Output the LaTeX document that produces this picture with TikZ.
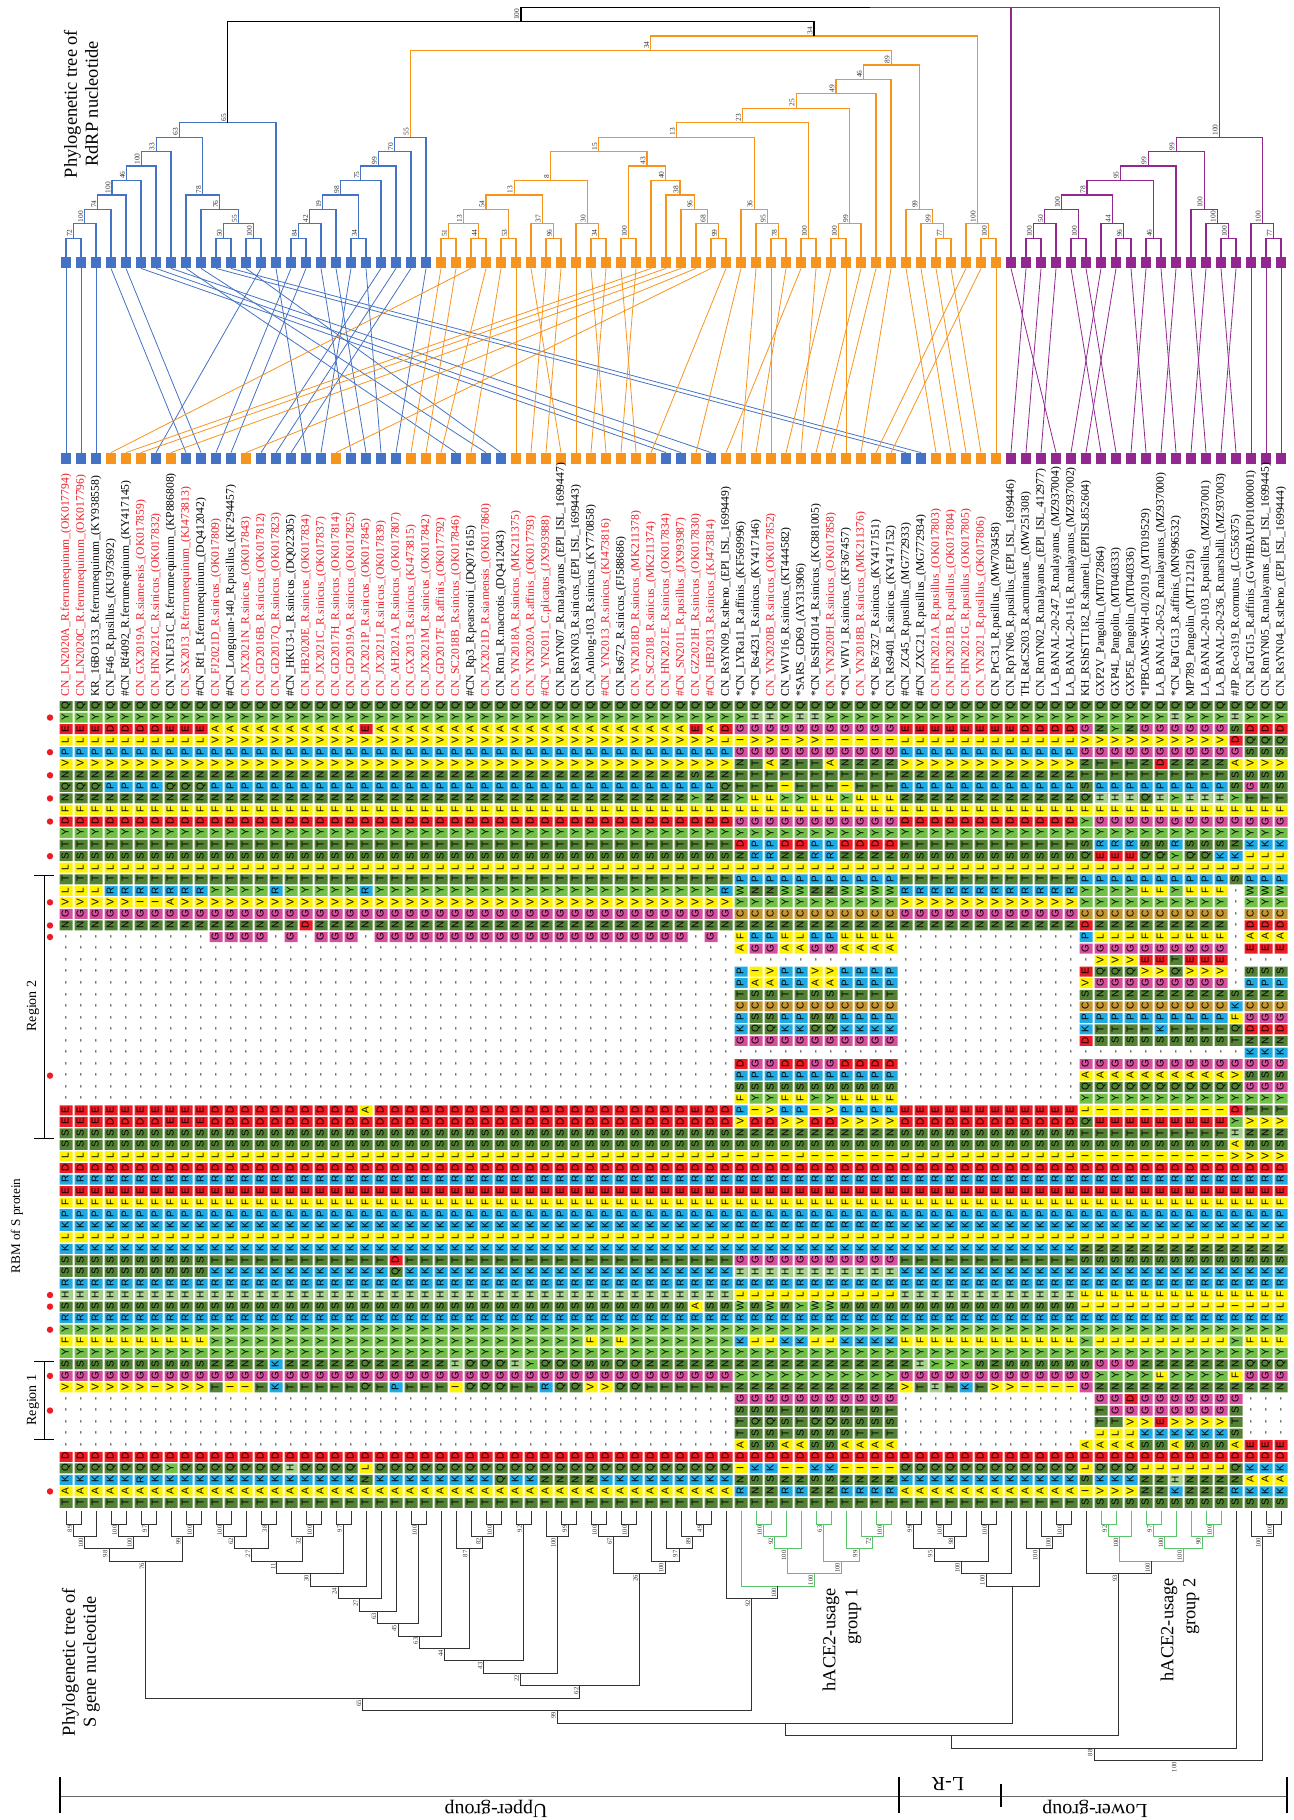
\documentclass[tikz,border=0pt]{standalone}
\usepackage{fontspec}
\setmainfont{Liberation Serif}
\newfontfamily\aafont{Liberation Sans}

\definecolor{rdblue}{RGB}{68,114,196}
\definecolor{rdorange}{RGB}{247,148,30}
\definecolor{rdpurple}{RGB}{146,39,143}
\definecolor{labred}{RGB}{237,28,36}
\definecolor{acegreen}{RGB}{90,196,106}
\definecolor{aaDG}{RGB}{84,130,53}
\definecolor{aaLG}{RGB}{114,192,72}
\definecolor{aaYE}{RGB}{255,242,0}
\definecolor{aaRE}{RGB}{237,28,36}
\definecolor{aaBL}{RGB}{30,170,226}
\definecolor{aaMA}{RGB}{214,79,157}
\definecolor{aaPG}{RGB}{169,209,142}
\definecolor{aaBR}{RGB}{196,150,50}
\colorlet{lr}{labred}
\colorlet{lk}{black}

% residue -> cell colour
\newcommand\setcol[2]{\expandafter\def\csname col@#1\endcsname{#2}}
\setcol{Q}{aaDG}\setcol{N}{aaDG}\setcol{S}{aaDG}\setcol{T}{aaDG}
\setcol{Y}{aaLG}\setcol{W}{aaLG}
\setcol{A}{aaYE}\setcol{V}{aaYE}\setcol{L}{aaYE}\setcol{I}{aaYE}\setcol{F}{aaYE}\setcol{M}{aaYE}
\setcol{D}{aaRE}\setcol{E}{aaRE}
\setcol{K}{aaBL}\setcol{R}{aaBL}\setcol{P}{aaBL}
\setcol{G}{aaMA}\setcol{H}{aaPG}\setcol{C}{aaBR}\setcol{-}{none}
\newcommand\aabox[1]{\hbox to 5.775pt{\hss#1\hss}}

\tikzset{
  rdrp/.style={line width=0.6pt},
  sgene/.style={line width=0.45pt},
  tangle/.style={line width=0.4pt},
  tipsq/.style={minimum width=5pt,minimum height=5.5pt,inner sep=0pt},
  taxon/.style={rotate=90,anchor=west,inner sep=0pt,font=\fontsize{5.8}{6}\selectfont},
  bsT/.style={rotate=90,anchor=south west,inner sep=0.6pt,text=black!80,font=\fontsize{3.7}{4}\selectfont},
  bsB/.style={rotate=90,anchor=south east,inner sep=0.6pt,text=black!80,font=\fontsize{3.3}{4}\selectfont},
  aacol/.style={rotate=90,anchor=west,inner sep=0pt,font=\aafont\fontsize{5}{5}\selectfont},
  vtitle/.style={rotate=90,align=center,font=\fontsize{9.2}{10.5}\selectfont},
}

% join of two branches, RdRP tree (top)
\newcommand\tj[6][rdblue]{%
  \pgfmathsetmacro\jx{(\csname nx@#3\endcsname+\csname nx@#4\endcsname)/2}%
  \pgfmathsetmacro\jy{238.3-14.45*(#5-1)}%
  \expandafter\xdef\csname nx@#2\endcsname{\jx}%
  \coordinate (#2) at (\jx,\jy);
  \draw[rdrp,#1] (#3) |- (#2) -| (#4);
  \node[bsT] at (#2) {#6};}
% join of two branches, S gene tree (bottom)
\newcommand\bj[6][black!80]{%
  \pgfmathsetmacro\jx{(\csname nx@#3\endcsname+\csname nx@#4\endcsname)/2}%
  \pgfmathsetmacro\jy{1511.5+12.45*#5}%
  \expandafter\xdef\csname nx@#2\endcsname{\jx}%
  \coordinate (#2) at (\jx,\jy);
  \draw[sgene,#1] (#3) |- (#2) -| (#4);
  \node[bsB] at (#2) {#6};}

% RBM sequences, row 1 (top) to row 70 (bottom)
\def\seqA{Q,Y,E,L,P,V,N,Q,N,F,D,Y,T,S,L,T,L,V,G,N,-,-,-,-,-,-,-,-,-,-,-,-,-,-,-,E,E,S,S,L,D,R,E,F,P,K,L,K,S,S,R,H,S,R,Y,F,Y,S,G,V,-,-,-,-,-,D,Q,K,A,T}
\def\seqB{Q,Y,A,V,P,V,N,P,N,F,D,Y,T,S,L,T,Y,V,G,N,G,-,-,-,-,-,-,-,-,-,-,-,-,-,-,D,D,S,S,L,D,R,E,F,P,K,L,K,T,K,R,H,S,R,Y,Y,Y,N,G,T,-,-,-,-,-,D,Q,K,A,T}
\def\seqC{Q,Y,G,I,G,N,T,T,Y,F,G,Y,D,N,L,P,W,Y,C,N,F,A,-,P,P,T,C,P,K,G,-,D,P,S,F,P,V,N,S,I,D,R,E,F,P,R,L,K,G,H,R,L,Y,R,Y,K,Y,N,Y,N,G,T,S,T,A,D,I,N,R,T}
\def\seqJ{Q,H,G,V,G,T,T,T,F,F,G,Y,P,R,L,P,N,Y,C,N,P,G,-,V,A,S,C,S,Q,G,-,G,P,S,Y,V,D,N,S,L,D,R,E,F,P,R,L,K,G,H,R,L,W,R,Y,L,Y,N,Y,N,G,S,Q,S,S,D,K,S,N,T}
\def\seqE{Q,Y,E,L,P,V,N,P,N,F,D,Y,T,S,L,T,R,V,G,N,-,-,-,-,-,-,-,-,-,-,-,-,-,-,-,E,D,S,S,L,D,R,E,F,P,K,L,K,T,K,R,H,S,R,Y,F,Y,S,G,T,-,-,-,-,-,D,Q,K,A,T}
\def\seqF{Q,Y,D,L,P,V,N,P,N,F,D,Y,T,S,L,T,R,V,G,N,-,-,-,-,-,-,-,-,-,-,-,-,-,-,-,E,D,S,S,L,D,R,E,F,P,K,L,K,T,K,R,H,S,R,Y,F,Y,S,G,I,-,-,-,-,-,D,Q,K,A,T}
\def\seqI{Q,Y,G,V,G,N,T,S,Q,F,Y,Y,S,Q,L,P,Y,Y,C,D,P,G,-,E,V,S,C,P,K,D,-,G,A,Q,Y,L,Q,T,S,I,D,R,E,F,P,K,L,N,S,K,R,F,L,R,Y,Y,Y,S,G,G,-,-,-,-,A,D,L,S,I,S}
\def\seqD{Q,Y,G,V,G,N,T,P,Q,F,G,Y,S,Q,L,P,F,Y,C,N,F,G,E,V,G,N,C,P,T,S,-,G,A,Q,Y,I,E,T,S,I,D,R,E,F,P,K,L,N,S,K,R,F,L,R,Y,L,Y,N,Y,N,G,G,V,K,S,D,L,N,N,S}
\def\seqG{Q,H,S,D,G,A,S,S,Y,F,G,Y,N,K,L,S,-,-,-,-,-,-,-,-,-,S,K,F,Q,T,-,G,V,Q,Y,D,Y,H,A,V,D,R,E,F,P,K,L,N,S,K,R,F,I,R,Y,Y,Y,N,F,N,G,S,T,S,A,D,Q,N,R,S}
\def\seqH{Q,Y,D,Q,S,V,S,S,T,F,G,Y,K,L,L,P,W,Y,C,D,A,E,-,S,P,N,C,G,D,N,K,G,S,G,Y,T,V,N,S,V,D,R,E,F,P,K,L,N,S,K,R,F,L,R,Y,F,Y,Q,G,N,-,-,-,-,E,D,K,A,K,S}

\begin{document}
\begin{tikzpicture}[x=0.5pt,y=-0.5pt]
\useasboundingbox (0,0) rectangle (1294,1820);

% tip coordinates of both trees
\foreach \i in {0,...,81}{
  \pgfmathsetmacro\jx{66+15*\i}
  \expandafter\xdef\csname nx@t\i\endcsname{\jx}
  \expandafter\xdef\csname nx@s\i\endcsname{\jx}
  \coordinate (t\i) at (\jx,257);
  \coordinate (s\i) at (\jx,1511);
}

% ---- RdRP tree
\tj{a1}{t0}{t1}{1}{72}
\tj{a2}{a1}{t2}{2}{100}
\tj{a3}{a2}{t3}{3}{74}
\tj{a4}{a3}{t4}{4}{100}
\tj{a5}{a4}{t5}{5}{46}
\tj{a6}{a5}{t6}{6}{100}
\tj{a7}{a6}{t7}{7}{33}
\tj{a8}{t10}{t11}{1}{50}
\tj{a9}{t12}{t13}{1}{100}
\tj{a10}{a8}{a9}{2}{55}
\tj{a11}{t9}{a10}{3}{76}
\tj{a12}{t8}{a11}{4}{78}
\tj{a13}{a7}{a12}{8}{63}
\tj{a14}{a13}{t14}{9}{65}
\tj{u1}{t15}{t16}{1}{84}
\tj{u2}{u1}{t17}{2}{42}
\tj{u3}{u2}{t18}{3}{19}
\tj{u4}{t19}{t20}{1}{34}
\tj{u5}{u3}{u4}{4}{98}
\tj{u6}{u5}{t21}{5}{75}
\tj{u7}{u6}{t22}{6}{99}
\tj{u8}{u7}{t23}{7}{70}
\tj{u9}{u8}{t24}{8}{55}
\tj[rdorange]{o1}{t25}{t26}{1}{51}
\tj[rdorange]{o2}{t27}{t28}{1}{44}
\tj[rdorange]{o3}{o1}{o2}{2}{13}
\tj[rdorange]{o4}{t29}{t30}{1}{53}
\tj[rdorange]{o5}{o3}{o4}{3}{54}
\tj[rdorange]{o6}{t32}{t33}{1}{96}
\tj[rdorange]{o7}{t31}{o6}{2}{37}
\tj[rdorange]{o8}{o5}{o7}{4}{13}
\tj[rdorange]{o9}{t35}{t36}{1}{34}
\tj[rdorange]{o10}{t34}{o9}{2}{30}
\tj[rdorange]{o11}{o8}{o10}{5}{8}
\tj[rdorange]{o12}{t37}{t38}{1}{100}
\tj[rdorange]{o13}{t43}{t44}{1}{99}
\tj[rdorange]{o14}{t42}{o13}{2}{68}
\tj[rdorange]{o15}{t41}{o14}{3}{96}
\tj[rdorange]{o16}{t40}{o15}{4}{38}
\tj[rdorange]{o17}{t39}{o16}{5}{40}
\tj[rdorange]{o18}{o12}{o17}{6}{43}
\tj[rdorange]{o19}{o11}{o18}{7}{15}
\tj[rdorange]{o20}{t47}{t48}{1}{78}
\tj[rdorange]{o21}{t46}{o20}{2}{95}
\tj[rdorange]{o22}{t45}{o21}{3}{36}
\tj[rdorange]{o23}{o19}{o22}{8}{13}
\tj[rdorange]{o24}{t49}{t50}{1}{100}
\tj[rdorange]{o25}{o23}{o24}{9}{23}
\tj[rdorange]{o26}{t51}{t52}{1}{100}
\tj[rdorange]{o27}{o26}{t53}{2}{99}
\tj[rdorange]{o28}{o25}{o27}{10}{25}
\tj[rdorange]{o29}{o28}{t54}{11}{49}
\tj[rdorange]{o30}{o29}{t55}{12}{46}
\tj[rdorange]{o31}{t58}{t59}{1}{77}
\tj[rdorange]{o32}{t57}{o31}{2}{99}
\tj[rdorange]{o33}{t56}{o32}{3}{99}
\tj[rdorange]{o34}{o30}{o33}{13}{89}
\tj[rdorange]{o35}{u9}{o34}{14}{34}
\tj[rdorange]{o36}{t61}{t62}{1}{100}
\tj[rdorange]{o37}{t60}{o36}{2}{100}
\tj[rdorange]{o38}{o35}{o37}{15}{34}
\tj[black]{r1}{a14}{o38}{16}{100}
\tj[rdpurple]{p1}{t64}{t65}{1}{100}
\tj[rdpurple]{p2}{p1}{t66}{2}{50}
\tj[rdpurple]{p3}{t67}{t68}{1}{100}
\tj[rdpurple]{p4}{p2}{p3}{3}{100}
\tj[rdpurple]{p5}{t70}{t71}{1}{96}
\tj[rdpurple]{p6}{t69}{p5}{2}{44}
\tj[rdpurple]{p7}{p4}{p6}{4}{78}
\tj[rdpurple]{p8}{t72}{t73}{1}{46}
\tj[rdpurple]{p9}{p7}{p8}{5}{95}
\tj[rdpurple]{p10}{p9}{t74}{6}{99}
\tj[rdpurple]{p11}{t77}{t78}{1}{100}
\tj[rdpurple]{p12}{t76}{p11}{2}{100}
\tj[rdpurple]{p13}{t75}{p12}{3}{100}
\tj[rdpurple]{p14}{p10}{p13}{7}{99}
\tj[rdpurple]{p15}{t80}{t81}{1}{77}
\tj[rdpurple]{p16}{t79}{p15}{2}{100}
\tj[rdpurple]{p17}{p14}{p16}{8}{100}
\pgfmathsetmacro\jx{(\csname nx@r1\endcsname+\csname nx@p17\endcsname)/2}
\coordinate (r0) at (\jx,7.1);
\draw[rdrp] (r1) |- (r0);
\draw[rdrp,rdpurple] (t63) |- (r0);
\draw[rdrp,rdpurple] (r0) -| (p17);

% ---- tips and tanglegram
\foreach \i in {0,...,24} \node[tipsq,fill=rdblue] (tq\i) at ({66+15*\i},262.5) {};
\foreach \i in {25,...,62} \node[tipsq,fill=rdorange] (tq\i) at ({66+15*\i},262.5) {};
\foreach \i in {63,...,81} \node[tipsq,fill=rdpurple] (tq\i) at ({66+15*\i},262.5) {};
\foreach \i/\j in {0/0,1/1,2/2,3/8,4/9,5/40,6/41,7/43,8/26,9/28,10/56,11/57,12/29,13/6,14/16,15/10,16/11,17/19,18/20,19/17,20/21,21/13,22/14,23/15,24/22}{
  \node[tipsq,fill=rdblue] (bq\j) at ({66+15*\j},458.5) {};
  \draw[tangle,rdblue] (tq\i.south) -- (bq\j.north);
}
\foreach \i/\j in {25/23,26/24,27/3,28/25,29/27,30/30,31/33,32/31,33/32,34/34,35/36,36/35,37/38,38/37,39/4,40/5,41/7,42/12,43/18,44/39,45/42,46/45,47/47,48/46,49/44,50/49,51/48,52/52,53/50,54/51,55/53,56/58,57/59,58/60,59/61,60/54,61/55,62/62}{
  \node[tipsq,fill=rdorange] (bq\j) at ({66+15*\j},458.5) {};
  \draw[tangle,rdorange] (tq\i.south) -- (bq\j.north);
}
\foreach \i/\j in {63/66,64/63,65/64,66/65,67/69,68/70,69/67,70/68,71/72,72/71,73/74,74/73,75/76,76/75,77/78,78/77,79/79,80/80,81/81}{
  \node[tipsq,fill=rdpurple] (bq\j) at ({66+15*\j},458.5) {};
  \draw[tangle,rdpurple] (tq\i.south) -- (bq\j.north);
}

% ---- strain names
\foreach \c/\lab [count=\j from 0] in {
  lr/{CN\_LN2020A\_R.ferrumequinum\_(OK017794)},
  lr/{CN\_LN2020C\_R.ferrumequinum\_(OK017796)},
  lk/{KR\_16BO133\_R.ferrumequinum\_(KY938558)},
  lk/{CN\_F46\_R.pusillus\_(KU973692)},
  lk/{\#CN\_Rf4092\_R.ferrumequinum\_(KY417145)},
  lr/{CN\_GX2019A\_R.siamensis\_(OK017859)},
  lr/{CN\_HN2021C\_R.sinicus\_(OK017832)},
  lk/{CN\_YNLF31C\_R.ferrumequinum\_(KP886808)},
  lr/{CN\_SX2013\_R.ferrumequinum\_(KJ473813)},
  lk/{\#CN\_Rf1\_R.ferrumequinum\_(DQ412042)},
  lr/{CN\_FJ2021D\_R.sinicus\_(OK017809)},
  lk/{\#CN\_Longquan-140\_R.pusillus\_(KF294457)},
  lr/{CN\_JX2021N\_R.sinicus\_(OK017843)},
  lr/{CN\_GD2016B\_R.sinicus\_(OK017812)},
  lr/{CN\_GD2017Q\_R.sinicus\_(OK017823)},
  lk/{\#CN\_HKU3-1\_R.sinicus\_(DQ022305)},
  lr/{CN\_HB2020E\_R.sinicus\_(OK017834)},
  lr/{CN\_JX2021C\_R.sinicus\_(OK017837)},
  lr/{CN\_GD2017H\_R.sinicus\_(OK017814)},
  lr/{CN\_GD2019A\_R.sinicus\_(OK017825)},
  lr/{CN\_JX2021P\_R.sinicus\_(OK017845)},
  lr/{CN\_JX2021J\_R.sinicus\_(OK017839)},
  lr/{CN\_AH2021A\_R.sinicus\_(OK017807)},
  lr/{CN\_GX2013\_R.sinicus\_(KJ473815)},
  lr/{CN\_JX2021M\_R.sinicus\_(OK017842)},
  lr/{CN\_GD2017F\_R.affinis\_(OK017792)},
  lr/{CN\_SC2018B\_R.sinicus\_(OK017846)},
  lk/{\#CN\_Rp3\_R.pearsonii\_(DQ071615)},
  lr/{CN\_JX2021D\_R.siamensis\_(OK017860)},
  lk/{CN\_Rm1\_R.macrotis\_(DQ412043)},
  lr/{CN\_YN2018A\_R.sinicus\_(MK211375)},
  lr/{CN\_YN2020A\_R.affinis\_(OK017793)},
  lr/{\#CN\_YN2011\_C.plicatus\_(JX993988)},
  lk/{CN\_RmYN07\_R.malayanus\_(EPI\_ISL\_1699447)},
  lk/{CN\_RsYN03\_R.sinicus\_(EPI\_ISL\_1699443)},
  lk/{CN\_Anlong-103\_R.sinicus\_(KY770858)},
  lr/{\#CN\_YN2013\_R.sinicus\_(KJ473816)},
  lk/{CN\_Rs672\_R.sinicus\_(FJ588686)},
  lr/{CN\_YN2018D\_R.sinicus\_(MK211378)},
  lr/{CN\_SC2018\_R.sinicus\_(MK211374)},
  lr/{CN\_HN2021E\_R.sinicus\_(OK017834)},
  lr/{\#CN\_SN2011\_R.pusillus\_(JX993987)},
  lr/{CN\_GZ2021H\_R.sinicus\_(OK017830)},
  lr/{\#CN\_HB2013\_R.sinicus\_(KJ473814)},
  lk/{CN\_RsYN09\_R.stheno\_(EPI\_ISL\_1699449)},
  lk/{*CN\_LYRa11\_R.affinis\_(KF569996)},
  lk/{*CN\_Rs4231\_R.sinicus\_(KY417146)},
  lr/{CN\_YN2020B\_R.sinicus\_(OK017852)},
  lk/{CN\_WIV16\_R.sinicus\_(KT444582)},
  lk/{*SARS\_GD69\_(AY313906)},
  lk/{*CN\_RsSHC014\_R.sinicus\_(KC881005)},
  lr/{CN\_YN2020H\_R.sinicus\_(OK017858)},
  lk/{*CN\_WIV1\_R.sinicus\_(KF367457)},
  lr/{CN\_YN2018B\_R.sinicus\_(MK211376)},
  lk/{*CN\_Rs7327\_R.sinicus\_(KY417151)},
  lk/{CN\_Rs9401\_R.sinicus\_(KY417152)},
  lk/{\#CN\_ZC45\_R.pusillus\_(MG772933)},
  lk/{\#CN\_ZXC21\_R.pusillus\_(MG772934)},
  lr/{CN\_HN2021A\_R.pusillus\_(OK017803)},
  lr/{CN\_HN2021B\_R.pusillus\_(OK017804)},
  lr/{CN\_HN2021G\_R.pusillus\_(OK017805)},
  lr/{CN\_YN2021\_R.pusillus\_(OK017806)},
  lk/{CN\_PrC31\_R.pusillus\_(MW703458)},
  lk/{CN\_RpYN06\_R.pusillus\_(EPI\_ISL\_1699446)},
  lk/{TH\_RaCS203\_R.acuminatus\_(MW251308)},
  lk/{CN\_RmYN02\_R.malayanus\_(EPI\_ISL\_412977)},
  lk/{LA\_BANAL-20-247\_R.malayanus\_(MZ937004)},
  lk/{LA\_BANAL-20-116\_R.malayanus\_(MZ937002)},
  lk/{KH\_RShSTT182\_R.shameli\_(EPIISL852604)},
  lk/{GXP2V\_Pangolin\_(MT072864)},
  lk/{GXP4L\_Pangolin\_(MT040333)},
  lk/{GXP5E\_Pangolin\_(MT040336)},
  lk/{*IPBCAMS-WH-01/2019\_(MT019529)},
  lk/{LA\_BANAL-20-52\_R.malayanus\_(MZ937000)},
  lk/{*CN\_RaTG13\_R.affinis\_(MN996532)},
  lk/{MP789\_Pangolin\_(MT121216)},
  lk/{LA\_BANAL-20-103\_R.pusillus\_(MZ937001)},
  lk/{LA\_BANAL-20-236\_R.marshalli\_(MZ937003)},
  lk/{\#JP\_Rc-o319\_R.cornutus\_(LC556375)},
  lk/{CN\_RaTG15\_R.affinis\_(GWHBAUP01000001)},
  lk/{CN\_RmYN05\_R.malayanus\_(EPI\_ISL\_1699445)},
  lk/{CN\_RsYN04\_R.stheno\_(EPI\_ISL\_1699444)}}
  \node[taxon,text=\c] (lab\j) at ({66+15*\j},697) {\lab};

% ---- alignment of the RBM
% single residues that differ from their group (strain/row/residue)
\foreach \j/\k/\r in {3/3/D,4/3/D,5/3/D,6/3/D,20/3/E,42/3/E,44/3/D,63/3/E,69/3/N,70/3/Y,71/3/N,
  49/2/H,51/2/Y,74/2/H,44/4/L,49/4/V,51/4/I,47/6/A,49/6/T,51/6/A,69/6/T,70/6/T,71/6/T,73/6/D,42/7/S,
  3/8/P,4/8/P,5/8/P,6/8/P,44/8/Q,48/8/I,52/8/I,79/8/G,
  42/9/Y,53/9/F,54/9/F,55/9/F,69/9/H,70/9/H,71/9/H,73/9/H,74/9/Y,75/9/H,76/9/H,77/9/H,
  69/13/R,70/13/R,71/13/R,74/13/R,69/14/E,70/14/E,71/14/E,74/14/Y,77/14/K,
  3/17/R,4/17/R,5/17/R,6/17/R,7/17/R,8/17/R,9/17/R,14/17/R,20/17/R,44/17/R,69/17/Y,70/17/Y,71/17/Y,74/17/Y,
  5/18/I,6/18/I,7/18/A,16/20/D,
  14/21/-,16/21/-,20/21/-,42/21/-,44/21/-,49/21/L,69/21/L,70/21/L,71/21/L,74/21/L,
  69/23/V,70/23/V,71/23/V,74/23/T,46/24/I,69/24/Q,70/24/Q,71/24/Q,74/24/Q,73/29/K,
  20/36/A,42/36/E,46/36/I,50/36/I,3/37/D,4/37/D,5/37/D,6/37/D,49/40/L,47/40/I,50/40/I,51/40/I,
  22/49/D,22/50/Q,42/53/A,45/53/W,48/53/S,52/53/S,53/53/S,54/53/S,55/53/S,46/53/S,35/56/F,37/56/F,
  14/58/K,20/58/Q,26/58/H,27/58/Q,28/58/Q,29/58/Q,30/58/H,31/58/Y,32/58/Q,33/58/Q,34/58/Q,
  35/58/S,36/58/S,37/58/Q,38/58/Q,56/58/N,57/58/H,58/58/Y,59/58/Y,60/58/Y,62/58/N,
  69/58/G,70/58/G,71/58/G,73/59/F,
  6/60/I,11/60/I,12/60/I,14/60/K,20/60/Q,22/60/P,26/60/I,27/60/Q,28/60/Q,29/60/Q,32/60/R,
  33/60/Q,34/60/Q,35/60/V,36/60/V,37/60/Q,38/60/Q,56/60/V,58/60/H,60/60/K,62/60/V,63/60/V,
  45/62/S,49/62/S,52/62/S,54/62/S,45/63/T,49/63/T,49/64/S,52/64/S,
  71/61/D,69/62/T,69/63/T,70/63/T,73/63/E,69/64/L,70/64/L,71/64/L,
  69/65/A,70/65/A,71/65/A,74/65/A,7/67/Y,15/67/H,20/67/L,69/67/Q,70/67/Q,71/67/Q,
  5/68/R,20/68/N,29/68/Q,32/68/N,33/68/N,34/68/N,35/68/N,69/68/K,70/68/K,71/68/K,74/68/H,
  69/69/V,70/69/V,71/69/V,74/69/K}{
  \pgfmathtruncatemacro\kk{\k-1}
  \expandafter\xdef\csname ov@\j @\kk\endcsname{\r}
}
\foreach \tp [count=\j from 0] in {A,A,A,A,A,A,A,A,A,A,
  B,B,B,B,B,B,B,B,B,B,B,B,B,B,B,B,B,B,B,B,B,B,B,B,B,B,B,B,B,B,B,B,B,B,B,
  C,J,J,C,C,J,J,C,C,C,C,E,E,E,E,E,E,E,F,F,F,F,F,I,D,D,D,D,D,D,D,D,D,G,H,H,H}{
  \expandafter\let\expandafter\cur\csname seq\tp\endcsname
  \foreach \cn in {aaDG,aaLG,aaYE,aaRE,aaBL,aaMA,aaPG,aaBR,none}
    {\expandafter\gdef\csname cp@\cn\endcsname{}}
  \gdef\colstr{}
  \pgfmathsetmacro\xa{59.5+15*\j}
  \foreach \r [count=\k from 0] in \cur {
    \ifcsname ov@\j @\k\endcsname \edef\r{\csname ov@\j @\k\endcsname}\fi
    \edef\cc{\csname col@\r\endcsname}
    \pgfmathsetmacro\ya{701+11.55*\k}
    \expandafter\xdef\csname cp@\cc\endcsname{\csname cp@\cc\endcsname (\xa,\ya) rectangle ++(13,10)}
    \xdef\colstr{\noexpand\aabox{\r}\unexpanded\expandafter{\colstr}}
  }
  \foreach \cn in {aaDG,aaLG,aaYE,aaRE,aaBL,aaMA,aaPG,aaBR}{
    \expandafter\ifx\csname cp@\cn\endcsname\empty\else
      \edef\tmp{\noexpand\fill[\cn] \csname cp@\cn\endcsname;}\tmp
    \fi}
  \node[aacol] (col\j) at ({66+15*\j},1508.7) {\colstr};
}
% marked sites
\foreach \k in {2,5,7,9,11,14,18,20,21,33,52,53,55,59,62,69}
  \fill[labred] (50,{706+11.55*(\k-1)}) circle (1.6pt);

% regions
\draw[line width=0.5pt] (44,875) -- (44,1138) (34,875) -- (54,875) (34,1138) -- (54,1138);
\draw[line width=0.5pt] (44,1361) -- (44,1439) (34,1361) -- (54,1361) (34,1439) -- (54,1439);
\node[rotate=90,font=\fontsize{7}{8}\selectfont] (reg2) at (33,1006) {Region 2};
\node[rotate=90,font=\fontsize{7}{8}\selectfont] (reg1) at (33,1400) {Region 1};
\node[rotate=90,font=\fontsize{6.6}{7}\selectfont] (rbm) at (17,1226) {RBM of S protein};

% ---- S gene tree
\bj{b1}{s0}{s1}{1}{89}
\bj{b2}{b1}{s2}{2}{100}
\bj{b3}{s3}{s4}{1}{100}
\bj{b4}{s5}{s6}{1}{97}
\bj{b5}{b3}{b4}{2}{100}
\bj{b6}{b2}{b5}{3}{98}
\bj{b7}{s8}{s9}{1}{100}
\bj{b8}{s7}{b7}{2}{99}
\bj{b9}{b6}{b8}{4}{76}
\bj{b10}{s10}{s11}{1}{100}
\bj{b11}{b10}{s12}{2}{62}
\bj{b12}{s13}{s14}{1}{38}
\bj{b13}{b11}{b12}{3}{27}
\bj{b14}{s16}{s17}{1}{100}
\bj{b15}{s15}{b14}{2}{32}
\bj{b16}{b13}{b15}{4}{11}
\bj{b17}{s18}{s19}{1}{97}
\bj{b18}{b16}{b17}{5}{30}
\bj{b19}{b18}{s20}{6}{24}
\bj{b20}{b19}{s21}{7}{27}
\bj{b21}{b20}{s22}{8}{63}
\bj{b22}{s23}{s24}{1}{100}
\bj{b23}{b21}{b22}{9}{45}
\bj{b24}{b23}{s25}{10}{63}
\bj{b25}{s28}{s29}{1}{100}
\bj{b26}{s27}{b25}{2}{82}
\bj{b27}{s26}{b26}{3}{87}
\bj{b28}{b24}{b27}{11}{44}
\bj{b29}{s30}{s31}{1}{92}
\bj{b30}{b28}{b29}{12}{43}
\bj{b31}{s33}{s34}{1}{99}
\bj{b32}{s32}{b31}{2}{100}
\bj{b33}{b30}{b32}{13}{22}
\bj{b34}{s35}{s36}{1}{100}
\bj{b35}{s37}{s38}{1}{100}
\bj{b36}{b34}{b35}{2}{67}
\bj{b37}{s42}{s43}{1}{49}
\bj{b38}{s41}{b37}{2}{89}
\bj{b39}{s40}{b38}{3}{97}
\bj{b40}{s39}{b39}{4}{100}
\bj{b41}{b36}{b40}{5}{26}
\bj{b42}{b33}{b41}{14}{62}
\bj{b43}{b9}{b42}{15}{65}
\bj[acegreen]{g1}{s46}{s47}{1}{100}
\bj[acegreen]{g2}{g1}{s48}{2}{92}
\bj[acegreen]{g3}{g2}{s49}{3}{100}
\bj[acegreen]{g4}{s50}{s51}{1}{63}
\bj[acegreen]{g5}{s54}{s55}{1}{100}
\bj[acegreen]{g6}{s53}{g5}{2}{72}
\bj[acegreen]{g7}{s52}{g6}{3}{99}
\bj[acegreen]{g8}{g4}{g7}{4}{100}
\bj[acegreen]{g9}{g3}{g8}{5}{100}
\bj[acegreen]{g10}{s45}{g9}{6}{100}
\bj{b44}{s44}{g10}{7}{92}
\bj{b45}{b43}{b44}{16}{99}
\bj{c1}{s56}{s57}{1}{99}
\bj{c2}{s58}{s59}{1}{100}
\bj{c3}{c2}{s60}{2}{98}
\bj{c4}{c1}{c3}{3}{95}
\bj{c5}{s61}{s62}{1}{100}
\bj{c6}{c4}{c5}{4}{100}
\bj{c7}{c6}{s63}{5}{100}
\bj{d1}{s66}{s67}{1}{100}
\bj{d2}{s65}{d1}{2}{100}
\bj{d3}{s64}{d2}{3}{100}
\bj{c8}{c7}{d3}{6}{}
\bj{b46}{b45}{c8}{17}{}
\bj[acegreen]{e1}{s69}{s70}{1}{92}
\bj[acegreen]{e2}{e1}{s71}{2}{100}
\bj[acegreen]{e3}{s72}{s73}{1}{97}
\bj[acegreen]{e4}{e3}{s74}{2}{100}
\bj[acegreen]{e5}{s76}{s77}{1}{100}
\bj[acegreen]{e6}{s75}{e5}{2}{90}
\bj[acegreen]{e7}{e4}{e6}{3}{100}
\bj[acegreen]{e8}{e2}{e7}{4}{100}
\bj{b47}{s68}{e8}{5}{93}
\bj{b48}{b46}{b47}{18}{}
\bj{b49}{b48}{s78}{19}{88}
\bj{f1}{s80}{s81}{1}{100}
\bj{f2}{s79}{f1}{2}{100}
\bj{b50}{b49}{f2}{20}{100}

% ---- titles
\node[vtitle] (ttop) at (81,104) {Phylogenetic tree of\\RdRP nucleotide};
\node[vtitle] (tbot) at (81,1662) {Phylogenetic tree of\\S gene nucleotide};
\node[rotate=90,align=right,anchor=east,font=\fontsize{9.2}{11}\selectfont] (ace1) at (842,1581) {hACE2-usage\\group 1};
\node[rotate=90,align=right,anchor=east,font=\fontsize{9.2}{11}\selectfont] (ace2) at (1180,1571) {hACE2-usage\\group 2};

% ---- groups along the bottom
\draw[black!60,line width=0.5pt] (60,1796) -- (1287,1796);
\draw[line width=1.2pt] (60,1777) -- (60,1813) (899,1777) -- (899,1813) (1287,1777) -- (1287,1813);
\draw[line width=0.8pt] (1001,1784) -- (1001,1807);
\node[rotate=180,font=\fontsize{10}{11}\selectfont] (upg) at (496,1809) {Upper-group};
\node[rotate=180,font=\fontsize{10}{11}\selectfont] (lrg) at (948,1784) {L-R};
\node[rotate=180,font=\fontsize{10}{11}\selectfont] (lwg) at (1095,1809) {Lower-group};
\end{tikzpicture}
\end{document}
